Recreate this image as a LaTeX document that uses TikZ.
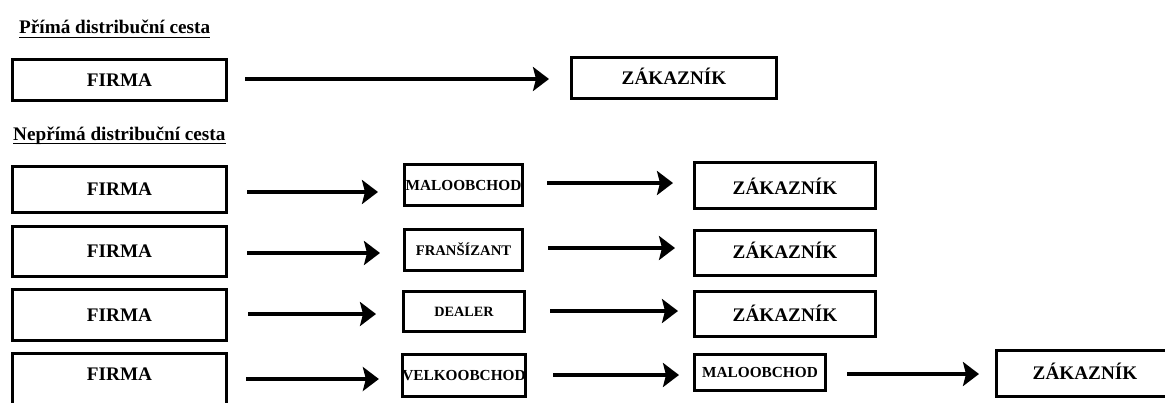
\documentclass[tikz,border=0pt]{standalone}
\usepackage{fontspec}
\setmainfont{Liberation Serif}
\usetikzlibrary{arrows.meta}

\tikzset{
  bigfont/.style={font=\bfseries\fontsize{19.2}{21}\selectfont},
  box/.style={draw, line width=3pt, rectangle, inner sep=0pt, bigfont,
    text height=12.7pt, text depth=0pt},
  smallbox/.style={box, font=\bfseries\fontsize{15.3}{17}\selectfont,
    text height=10.1pt},
  heading/.style={anchor=base west, inner sep=0pt, bigfont},
  headrule/.style={line width=1.5pt},
  arr/.style={line width=3.3pt,
    -{Stealth[length=16pt,width=24pt,inset=3pt]}},
}

\begin{document}
\begin{tikzpicture}[x=1pt,y=-1pt]
\useasboundingbox (0,0) rectangle (1165,402);

% --- direct channel ---
\node[heading] (t0) at (19,33.3) {Přímá distribuční cesta};
\draw[headrule] ([yshift=-4pt]t0.base west) -- ([yshift=-4pt]t0.base east);

\node[box, minimum width=214, minimum height=41] (f0) at (119.5,80) {FIRMA};
\node[box, minimum width=205, minimum height=41] (z0) at (674,78) {ZÁKAZNÍK};
\draw[arr] ([shift={(17,-1)}]f0.east) -- ([shift={(-21,1)}]z0.west);

% --- indirect channels ---
\node[heading] (t1) at (13,140) {Nepřímá distribuční cesta};
\draw[headrule] ([yshift=-3.5pt]t1.base west) -- ([yshift=-3.5pt]t1.base east);

% retail
\node[box, minimum width=214, minimum height=46] (f1) at (119.5,189.5) {FIRMA};
\node[smallbox, minimum width=118, minimum height=41] (m1) at (463.5,185) {MALOOBCHOD};
\node[box, text height=18.7pt, minimum width=181, minimum height=46] (z1) at (785,185.5) {ZÁKAZNÍK};
\draw[arr] ([shift={(19,2.5)}]f1.east) -- ([shift={(-25,7)}]m1.west);
\draw[arr] ([shift={(23,-2)}]m1.east) -- ([shift={(-20,-2.5)}]z1.west);

% franchise
\node[box, minimum width=214, minimum height=50] (f2) at (119.5,251.5) {FIRMA};
\node[smallbox, font=\bfseries\fontsize{14.67}{16}\selectfont,
  minimum width=118, minimum height=41] (m2) at (463.5,250) {FRANŠÍZANT};
\node[box, minimum width=181, minimum height=45] (z2) at (785,252.5) {ZÁKAZNÍK};
\draw[arr] ([shift={(19,1.5)}]f2.east) -- ([shift={(-23,3)}]m2.west);
\draw[arr] ([shift={(24,-2)}]m2.east) -- ([shift={(-18,-4.5)}]z2.west);

% dealer
\node[box, minimum width=214, minimum height=51] (f3) at (119.5,315) {FIRMA};
\node[smallbox, font=\bfseries\fontsize{14.2}{16}\selectfont,
  minimum width=121, minimum height=40] (m3) at (464,311.5) {DEALER};
\node[box, text height=16pt, minimum width=181, minimum height=45] (z3) at (785,313.5) {ZÁKAZNÍK};
\draw[arr] ([shift={(20,-1)}]f3.east) -- ([shift={(-26,2.5)}]m3.west);
\draw[arr] ([shift={(24,-0.5)}]m3.east) -- ([shift={(-15,-2.5)}]z3.west);

% wholesale -> retail (first box runs past the lower edge)
\node[box, minimum width=214, minimum height=55] (f4) at (119.5,381) {};
\node[bigfont, inner sep=0pt, text height=12.7pt, text depth=0pt]
  (f4text) at (119.5,374) {FIRMA};
\node[smallbox, minimum width=121, minimum height=42] (m4) at (464,375.5) {VELKOOBCHOD};
\node[smallbox, minimum width=131, minimum height=36] (n4) at (760,372.5) {MALOOBCHOD};
\node[box, minimum width=177, minimum height=46] (z4) at (1085,373.5) {ZÁKAZNÍK};
\draw[arr] ([shift={(18,-2)}]f4.east) -- ([shift={(-22,3.5)}]m4.west);
\draw[arr] ([shift={(26,-0.5)}]m4.east) -- ([shift={(-14,2.5)}]n4.west);
\draw[arr] ([shift={(20,1.5)}]n4.east) -- ([shift={(-16,0.5)}]z4.west);
\end{tikzpicture}
\end{document}
